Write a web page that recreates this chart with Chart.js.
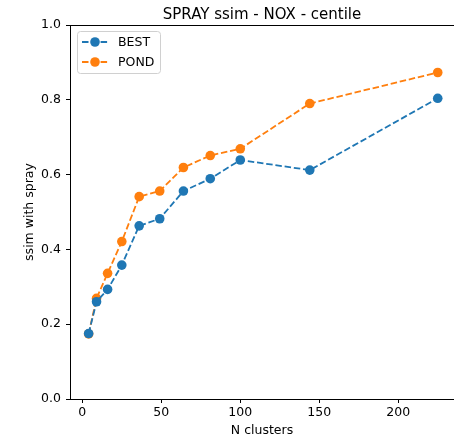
<!DOCTYPE html>
<html>
<head>
<meta charset="utf-8">
<script src="https://cdn.jsdelivr.net/npm/chart.js@4"></script>
<style>
body{margin:0;background:#fff}
</style>
</head>
<body>
<canvas id="ChartCanvas" width="454" height="440"></canvas>
<script>
// valeurs
const nClusters = [4, 9, 16, 25, 36, 49, 64, 81, 100, 144, 225]
const bestSsim = [0.175, 0.260, 0.293, 0.358, 0.463, 0.482, 0.556, 0.589, 0.639, 0.612, 0.804]
const pondSsim = [0.174, 0.269, 0.336, 0.421, 0.541, 0.556, 0.619, 0.651, 0.669, 0.790, 0.873]
const seriesNames = ['BEST', 'POND']
const seriesColors = ['#1f77b4', '#ff7f0e']
const xTicks = [0, 50, 100, 150, 200]
const yTicks = [0, 0.2, 0.4, 0.6, 0.8, 1.0]

const FONT = 'DejaVu Sans'
let chart = null

function toPoints(ys){
    return nClusters.map((x, i) => ({x: x, y: ys[i]}))
}

function makeDataset(i, ys){
    return {
        label: seriesNames[i],
        data: toPoints(ys),
        borderColor: seriesColors[i],
        backgroundColor: seriesColors[i],
        borderWidth: 1.8,
        borderDash: [6.5, 2.8],
        pointRadius: 4.8,
        pointHoverRadius: 4.8,
        pointBorderWidth: 0,
        tension: 0
    }
}

// titre, bordure du haut et légende façon matplotlib
const mplExtras = {
    id: 'mplExtras',
    afterDraw(c){
        const ctx = c.ctx
        const a = c.chartArea
        ctx.save()
        // bordure du haut
        ctx.strokeStyle = '#000'
        ctx.lineWidth = 1
        ctx.beginPath()
        ctx.moveTo(a.left, a.top + 0.5)
        ctx.lineTo(c.width, a.top + 0.5)
        ctx.stroke()
        // titre
        ctx.fillStyle = '#000'
        ctx.font = '15px "' + FONT + '"'
        ctx.textAlign = 'center'
        ctx.textBaseline = 'alphabetic'
        ctx.fillText('SPRAY ssim - NOX - centile', 262, 18.5)
        // légende
        const bx = 77, by = 31, bw = 83, bh = 42
        ctx.fillStyle = 'rgba(255,255,255,0.8)'
        ctx.strokeStyle = '#d0d0d0'
        ctx.lineWidth = 1
        ctx.beginPath()
        ctx.roundRect(bx + 0.5, by + 0.5, bw, bh, 3)
        ctx.fill()
        ctx.stroke()
        ctx.font = '12.5px "' + FONT + '"'
        ctx.textAlign = 'left'
        ctx.textBaseline = 'middle'
        c.data.datasets.forEach((ds, i) => {
            const yy = by + 11 + i * 20
            ctx.strokeStyle = ds.borderColor
            ctx.lineWidth = 1.8
            ctx.setLineDash([6.5, 2.8])
            ctx.beginPath()
            ctx.moveTo(82, yy)
            ctx.lineTo(108, yy)
            ctx.stroke()
            ctx.setLineDash([])
            ctx.fillStyle = ds.backgroundColor
            ctx.beginPath()
            ctx.arc(95, yy, 4.8, 0, Math.PI * 2)
            ctx.fill()
            ctx.fillStyle = '#000'
            ctx.fillText(ds.label, 118, yy + 0.5)
        })
        ctx.restore()
    }
}

function initChart(){
    const ctx = document.getElementById('ChartCanvas').getContext('2d')
    chart = new Chart(ctx, {
        type: 'line',
        data: {
            datasets: [makeDataset(0, bestSsim), makeDataset(1, pondSsim)]
        },
        options: {
            responsive: false,
            animation: false,
            layout: {autoPadding: false, padding: {top: 25, right: 0, left: 0, bottom: 0}},
            plugins: {
                legend: {display: false},
                title: {display: false},
                tooltip: {enabled: false}
            },
            scales: {
                x: {
                    type: 'linear',
                    min: -7.8,
                    max: 235.3,
                    afterBuildTicks: s => { s.ticks = xTicks.map(v => ({value: v})) },
                    afterFit: s => { s.height = 41; s.paddingLeft = 0; s.paddingRight = 0 },
                    grid: {drawOnChartArea: false, drawTicks: true, tickLength: 4, color: '#000'},
                    border: {display: true, color: '#000', width: 1},
                    ticks: {
                        color: '#000',
                        padding: 2,
                        maxRotation: 0,
                        font: {family: FONT, size: 12.5},
                        callback: v => String(v)
                    },
                    title: {
                        display: true,
                        text: 'N clusters',
                        color: '#000',
                        font: {family: FONT, size: 12.5},
                        padding: {top: 0, bottom: 1.5}
                    }
                },
                y: {
                    min: 0,
                    max: 1,
                    afterBuildTicks: s => { s.ticks = yTicks.map(v => ({value: v})) },
                    afterFit: s => { s.width = 70; s.paddingTop = 0; s.paddingBottom = 0 },
                    grid: {drawOnChartArea: false, drawTicks: true, tickLength: 4, color: '#000'},
                    border: {display: true, color: '#000', width: 1},
                    ticks: {
                        color: '#000',
                        padding: 5,
                        font: {family: FONT, size: 12.5},
                        callback: v => v.toFixed(1)
                    },
                    title: {
                        display: true,
                        text: 'ssim with spray',
                        color: '#000',
                        font: {family: FONT, size: 12.5},
                        padding: {top: 22, bottom: 0}
                    }
                }
            }
        },
        plugins: [mplExtras]
    })
}

initChart()
</script>
</body>
</html>
